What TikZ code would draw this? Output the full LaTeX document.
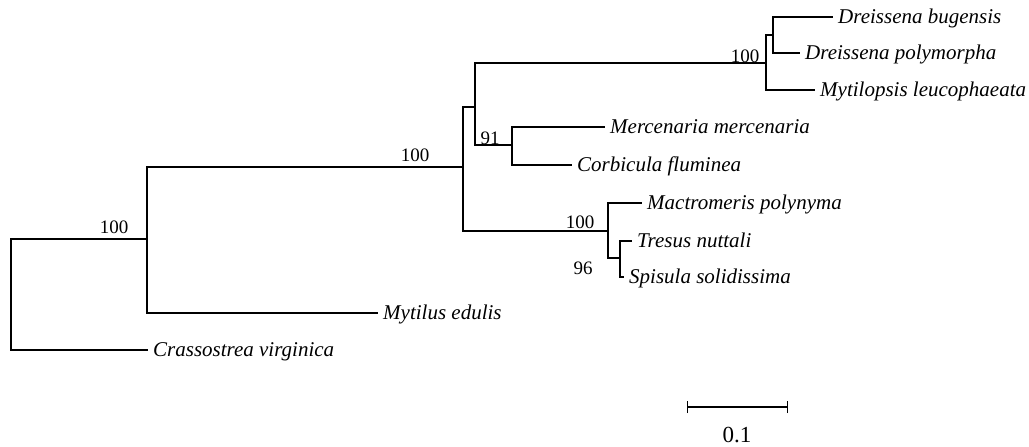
\documentclass[tikz,border=0pt]{standalone}
\usepackage{fontspec}
\setmainfont{Liberation Serif}
\begin{document}
\begin{tikzpicture}[x=1pt,y=-1pt,
  branch/.style={line width=2.6pt, line join=miter},
  rootbranch/.style={line width=1.6pt, line join=miter},
  taxon/.style={anchor=west, inner xsep=5pt, inner ysep=0pt,
    text height=13.8pt, text depth=0pt,
    font=\itshape\fontsize{21}{25}\selectfont},
  support/.style={inner sep=0pt, font=\fontsize{19}{23}\selectfont},
  scalebar/.style={line width=1.6pt}]
\useasboundingbox (0,0) rectangle (1029,447);

% internal nodes (x of the split, y where the parent branch enters)
\coordinate (root) at (11,295);
\coordinate (nB) at (147,239);
\coordinate (nC) at (463,167);
\coordinate (nD) at (475,107);
\coordinate (nE) at (766,63);
\coordinate (nG) at (773,35);
\coordinate (nF) at (512,145);
\coordinate (nM) at (608,231);
\coordinate (nH) at (620,258);

% branch tips
\coordinate (tDb) at (833,17);
\coordinate (tDp) at (800,53);
\coordinate (tMl) at (815,90);
\coordinate (tMm) at (605,127);
\coordinate (tCf) at (572,165);
\coordinate (tMp) at (642,203);
\coordinate (tTn) at (632,241);
\coordinate (tSs) at (624,277);
\coordinate (tMe) at (378,313);
\coordinate (tCv) at (148,350);

% taxon labels
\node[taxon] (lDb) at (tDb) {Dreissena bugensis};
\node[taxon] (lDp) at (tDp) {Dreissena polymorpha};
\node[taxon] (lMl) at (tMl) {Mytilopsis leucophaeata};
\node[taxon] (lMm) at (tMm) {Mercenaria mercenaria};
\node[taxon] (lCf) at (tCf) {Corbicula fluminea};
\node[taxon] (lMp) at (tMp) {Mactromeris polynyma};
\node[taxon] (lTn) at (tTn) {Tresus nuttali};
\node[taxon] (lSs) at (tSs) {Spisula solidissima};
\node[taxon] (lMe) at (tMe) {Mytilus edulis};
\node[taxon] (lCv) at (tCv) {Crassostrea virginica};

% branches
\draw[rootbranch] (root) |- (nB);
\draw[rootbranch] (root) |- (tCv);
\draw[branch] (nB) |- (nC);
\draw[branch] (nB) |- (tMe);
\draw[branch] (nC) |- (nD);
\draw[branch] (nC) |- (nM);
\draw[branch] (nD) |- (nE);
\draw[branch] (nD) |- (nF);
\draw[branch] (nE) |- (nG);
\draw[branch] (nE) |- (tMl);
\draw[branch] (nG) |- (tDb);
\draw[branch] (nG) |- (tDp);
\draw[branch] (nF) |- (tMm);
\draw[branch] (nF) |- (tCf);
\draw[branch] (nM) |- (tMp);
\draw[branch] (nM) |- (nH);
\draw[branch] (nH) |- (tTn);
\draw[branch] (nH) |- (tSs);

% bootstrap support values
\node[support] (sB) at (114,227) {100};
\node[support] (sC) at (415,155) {100};
\node[support] (sE) at (745,56) {100};
\node[support] (sF) at (490,138) {91};
\node[support] (sM) at (580,222) {100};
\node[support] (sH) at (583,268) {96};

% scale bar
\coordinate (sbL) at (687,407);
\coordinate (sbR) at (787,407);
\draw[scalebar] (sbL) -- (sbR);
\draw[line width=1pt] ([yshift=-6pt]sbL) -- ([yshift=6pt]sbL);
\draw[line width=1pt] ([yshift=-6pt]sbR) -- ([yshift=6pt]sbR);
\node[inner sep=0pt, font=\fontsize{23}{27}\selectfont] (sbT) at (737,435) {0.1};
\end{tikzpicture}
\end{document}
